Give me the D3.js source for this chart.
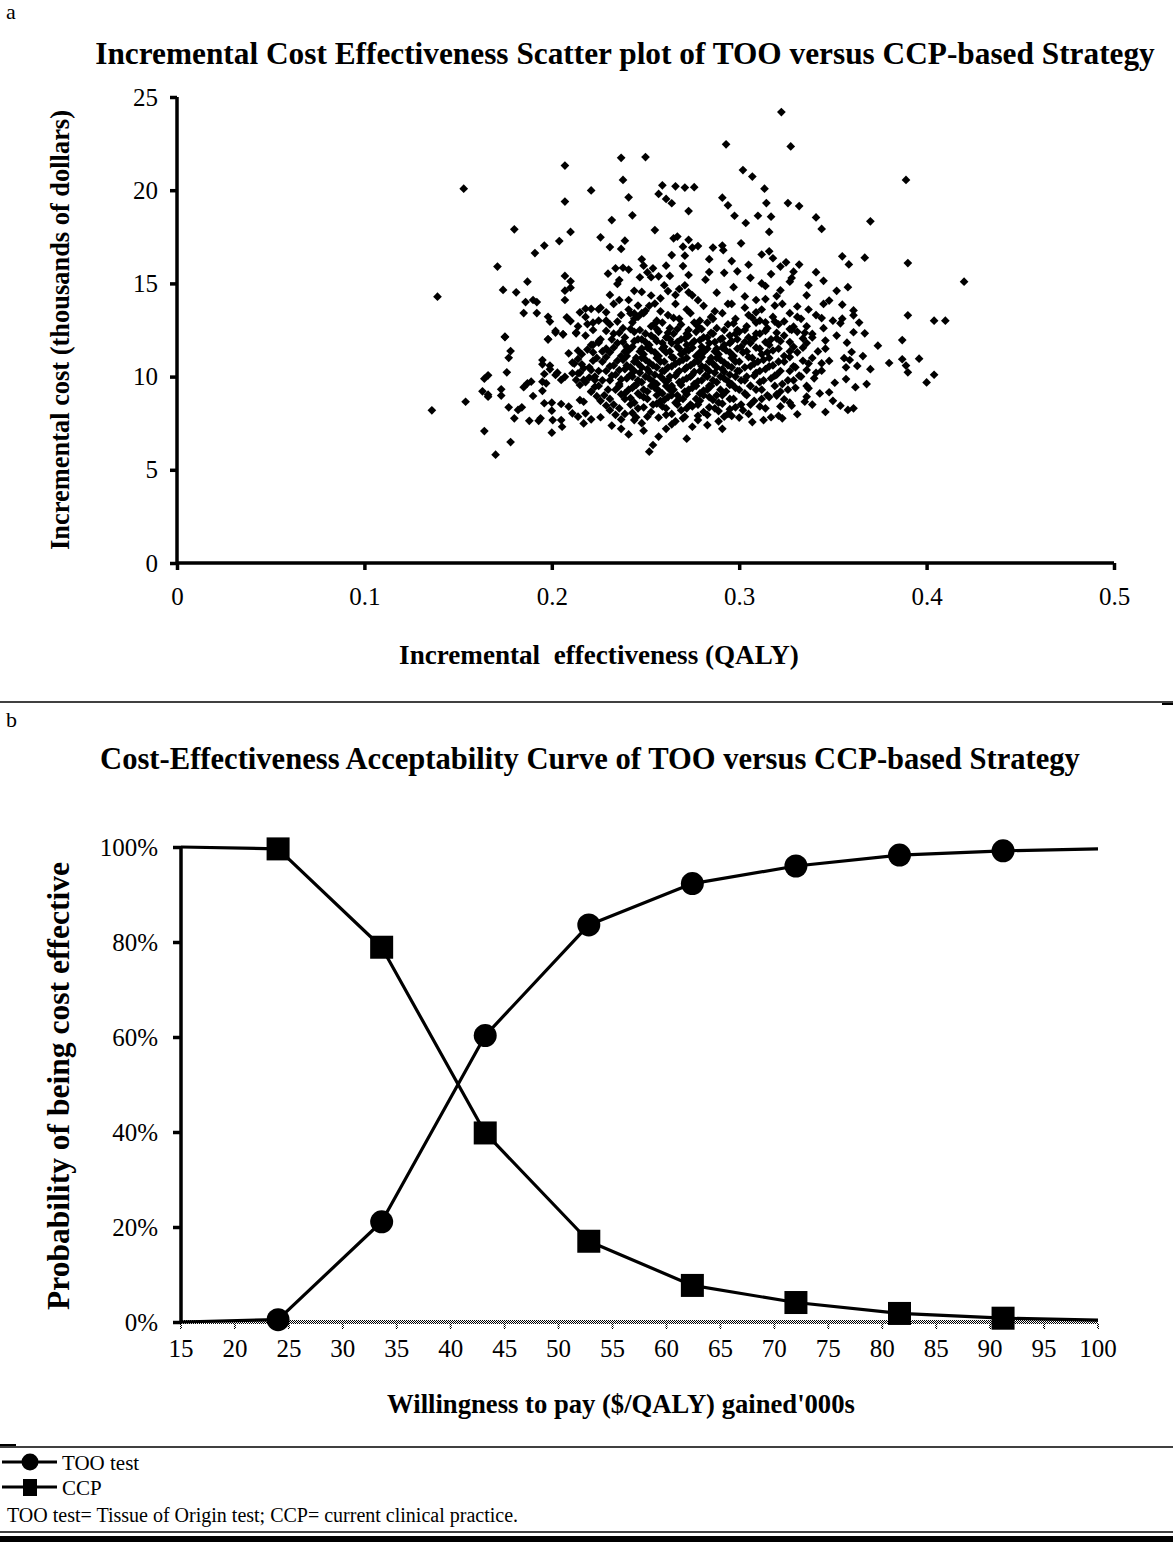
<!DOCTYPE html>
<html>
<head>
<meta charset="utf-8">
<script src="https://cdn.jsdelivr.net/npm/d3@7"></script>
<style>
  body { margin: 0; background: #fff; }
  text { font-family: "Liberation Serif", "Times New Roman", serif; fill: #000; }
</style>
</head>
<body>
<div id="chart"></div>
<script>
// ---------- panel a : incremental cost-effectiveness scatter ----------
const effectTicks = [0, 0.1, 0.2, 0.3, 0.4, 0.5];
const costTicks = [0, 5, 10, 15, 20, 25];

// [incremental effectiveness (QALY), incremental cost ($'000)]
const scatterOuter = [
  [0.153,20.08],[0.139,14.29],[0.207,21.32],[0.207,19.39],[0.221,19.99],[0.237,21.74],[0.250,21.78],[0.238,20.55],
  [0.241,19.62],[0.243,18.65],[0.232,18.40],[0.259,20.26],[0.266,20.21],[0.271,20.14],[0.276,20.16],[0.257,19.80],
  [0.261,19.53],[0.264,19.30],[0.273,18.88],[0.255,17.86],[0.180,17.90],[0.210,17.76],[0.204,17.27],[0.196,17.03],
  [0.191,16.63],[0.226,17.47],[0.231,16.95],[0.237,16.85],[0.239,17.29],[0.171,15.90],[0.174,14.65],[0.181,14.52],
  [0.187,15.09],[0.186,14.00],[0.190,14.11],[0.192,14.00],[0.185,13.41],[0.192,13.41],[0.175,12.12],[0.207,15.40],
  [0.210,15.11],[0.207,14.61],[0.210,14.77],[0.207,14.11],[0.198,13.21],[0.199,12.95],[0.202,12.45],[0.206,12.27],
  [0.208,13.18],[0.210,12.98],[0.213,12.36],[0.198,12.00],[0.215,13.45],[0.218,13.64],[0.221,13.63],[0.225,13.61],
  [0.219,12.82],[0.222,12.89],[0.225,13.00],[0.229,13.45],[0.231,14.38],[0.230,15.52],[0.234,15.81],[0.236,15.18],
  [0.235,14.97],[0.238,15.84],[0.241,15.74],[0.236,14.11],[0.241,14.11],[0.248,16.29],[0.249,15.95],[0.251,15.59],
  [0.254,15.81],[0.257,15.38],[0.261,15.95],[0.264,16.52],[0.267,17.51],[0.265,17.42],[0.270,16.97],[0.273,17.34],
  [0.271,16.49],[0.270,15.93],[0.275,16.92],[0.273,15.45],[0.247,15.33],[0.253,15.33],[0.260,14.90],[0.248,14.54],
  [0.253,14.35],[0.255,13.92],[0.248,13.40],[0.246,13.81],[0.262,14.59],[0.250,13.53],[0.242,13.39],[0.244,13.39],
  [0.266,14.38],[0.271,14.90],[0.273,14.52],[0.275,14.36],
  [0.3225,24.19],[0.293,22.46],[0.3275,22.35],[0.302,21.08],[0.307,20.73],[0.3135,20.08],[0.291,19.60],[0.294,19.19],
  [0.3145,19.31],[0.326,19.31],[0.332,19.15],[0.2975,18.63],[0.310,18.63],[0.317,18.58],[0.3035,18.24],[0.316,17.76],
  [0.341,18.54],[0.344,17.92],[0.370,18.33],[0.301,17.15],[0.286,16.92],[0.291,17.03],[0.2915,16.78],[0.278,17.00],
  [0.312,16.55],[0.316,16.72],[0.318,16.35],[0.325,16.13],[0.332,16.01],[0.355,16.45],[0.3585,16.02],[0.367,16.38],
  [0.390,16.09],[0.420,15.09],[0.389,20.55],[0.284,15.61],[0.292,15.57],[0.299,15.65],[0.329,15.63],[0.328,15.29],
  [0.327,15.09],[0.345,15.14],[0.314,14.86],[0.322,14.63],[0.320,14.32],[0.314,14.16],[0.309,14.11],[0.336,14.36],
  [0.331,13.76],[0.348,14.08],[0.345,13.90],[0.355,13.86],[0.361,13.55],[0.361,13.29],[0.390,13.29],[0.404,13.00],
  [0.410,13.00],[0.319,13.81],[0.309,13.45],[0.314,12.91],[0.324,12.96],[0.329,12.68],[0.339,12.29],[0.344,13.14],
  [0.355,13.11],[0.354,12.86],[0.361,12.38],[0.367,12.32],[0.3575,11.82],[0.374,11.66],[0.387,11.96],[0.346,11.93],
  [0.380,10.73],[0.387,10.93],[0.389,10.59],[0.390,10.23],[0.396,10.96],[0.404,10.10],[0.400,9.69],[0.348,10.84],
  [0.360,11.32],[0.356,10.99],[0.359,10.89],[0.357,10.50],[0.363,10.57],[0.344,10.71],[0.344,10.32],[0.340,9.91],
  [0.351,9.67],[0.357,9.87],[0.362,9.43],[0.343,9.10],[0.348,9.16],[0.337,9.37],[0.336,8.92],[0.335,8.65],
  [0.331,7.98],[0.328,8.44],[0.324,8.78],[0.320,8.98],[0.317,7.82],[0.321,7.90],[0.323,7.76],[0.313,7.67],
  [0.307,7.56],[0.289,8.15],[0.295,8.25],[0.296,7.89],[0.278,7.67],[0.354,8.44],[0.358,8.21],[0.361,8.30],
  [0.175,12.14],[0.198,12.00],[0.202,12.36],[0.206,12.27],[0.213,12.32],[0.178,11.37],[0.177,11.01],[0.164,9.89],
  [0.166,10.07],[0.176,10.23],[0.163,9.21],[0.166,8.92],[0.166,9.03],[0.173,9.32],[0.173,8.98],[0.154,8.65],
  [0.136,8.19],[0.164,7.08],[0.178,6.49],[0.170,5.81],[0.177,8.35],[0.180,7.76],[0.182,8.21],[0.184,8.35],
  [0.188,7.63],[0.193,7.63],[0.194,7.76],[0.185,9.43],[0.187,9.64],[0.189,9.73],[0.190,8.96],[0.195,10.89],
  [0.195,10.66],[0.199,10.59],[0.199,10.39],[0.196,10.14],[0.202,10.09],[0.203,10.21],[0.195,9.73],[0.197,9.64],
  [0.195,9.24],[0.196,8.57],[0.200,8.17],[0.200,8.60],[0.2005,7.67],[0.205,7.67],[0.2055,7.31],[0.200,6.99],
  [0.205,8.53],[0.209,8.39],[0.211,8.03],[0.214,7.85],[0.217,7.49],[0.221,7.71],[0.226,7.82],[0.218,8.03],
  [0.209,11.25],[0.214,11.39],[0.211,10.75],[0.216,10.66],[0.222,11.70],[0.225,11.82],[0.222,11.30],[0.205,9.82],
  [0.207,9.99],[0.211,10.18],[0.214,10.18],[0.213,9.82],[0.215,9.55],[0.217,9.82],[0.221,10.35],[0.223,9.82],
  [0.221,9.19],[0.215,8.74],[0.217,8.65],[0.232,7.37],[0.241,6.90],[0.252,5.97],[0.254,6.33],[0.257,6.78],
  [0.272,6.67],[0.244,7.67],[0.245,7.82],[0.264,7.44],[0.270,7.76],[0.275,7.31],
  [0.244,14.6],[0.258,14.2],[0.263,15.4],[0.268,14.7],[0.278,14.1],[0.282,15.2],[0.288,14.5],[0.294,13.9],
  [0.297,14.8],[0.303,14.3],[0.306,15.3],[0.312,15.0],[0.317,15.5],[0.284,16.3],[0.296,16.2],[0.305,16.0],
  [0.322,15.9],[0.337,14.9],[0.341,15.6],[0.352,14.6],[0.358,14.8],[0.364,12.9],[0.366,11.1],[0.370,10.4],
  [0.368,9.6],[0.350,8.7],[0.346,8.1],[0.339,8.5],[0.283,7.4],[0.291,7.2],[0.261,7.2],[0.249,7.1],[0.237,7.2]
];

// dense middle of the cloud, estimated row by row
const scatterCore = [
  [0.226,13.7],[0.233,13.9],[0.241,13.6],[0.252,13.8],[0.258,13.5],[0.266,13.9],[0.272,13.6],[0.281,13.8],[0.287,13.5],[0.296,13.9],[0.303,13.7],[0.312,13.6],[0.323,13.9],[0.337,13.6],
  [0.218,13.2],[0.229,13.0],[0.237,13.3],[0.244,13.1],[0.249,13.4],[0.256,13.0],[0.262,13.3],[0.268,13.1],[0.274,13.4],[0.279,13.0],[0.285,13.2],[0.291,13.4],[0.298,13.1],[0.305,13.3],[0.311,13.0],[0.318,13.2],[0.327,13.4],[0.333,13.1],[0.341,13.3],[0.350,13.0],
  [0.214,12.7],[0.222,12.5],[0.231,12.8],[0.238,12.6],[0.243,12.9],[0.247,12.5],[0.253,12.7],[0.259,12.9],[0.263,12.6],[0.269,12.8],[0.273,12.5],[0.278,12.7],[0.283,12.9],[0.288,12.6],[0.294,12.8],[0.299,12.5],[0.304,12.7],[0.309,12.9],[0.315,12.6],[0.321,12.8],[0.328,12.5],[0.336,12.7],[0.345,12.6],
  [0.218,12.2],[0.226,12.0],[0.233,12.3],[0.239,12.1],[0.244,12.4],[0.248,12.0],[0.253,12.2],[0.257,12.4],[0.261,12.1],[0.265,12.3],[0.269,12.0],[0.273,12.2],[0.277,12.4],[0.281,12.1],[0.286,12.3],[0.290,12.0],[0.295,12.2],[0.300,12.4],[0.305,12.1],[0.311,12.3],[0.317,12.0],[0.324,12.2],[0.331,12.4],[0.339,12.1],[0.352,12.2],
  [0.221,11.7],[0.229,11.5],[0.235,11.8],[0.240,11.6],[0.244,11.9],[0.248,11.5],[0.252,11.7],[0.256,11.9],[0.260,11.6],[0.264,11.8],[0.268,11.5],[0.272,11.7],[0.276,11.9],[0.280,11.6],[0.284,11.8],[0.288,11.5],[0.292,11.7],[0.296,11.9],[0.301,11.6],[0.306,11.8],[0.311,11.5],[0.316,11.7],[0.322,11.9],[0.329,11.6],[0.336,11.8],[0.346,11.5],
  [0.216,11.2],[0.224,11.0],[0.231,11.3],[0.237,11.1],[0.241,11.4],[0.245,11.0],[0.249,11.2],[0.253,11.4],[0.257,11.1],[0.261,11.3],[0.265,11.0],[0.269,11.2],[0.273,11.4],[0.277,11.1],[0.281,11.3],[0.285,11.0],[0.289,11.2],[0.293,11.4],[0.297,11.1],[0.302,11.3],[0.307,11.0],[0.312,11.2],[0.318,11.4],[0.324,11.1],[0.331,11.3],[0.339,11.0],
  [0.212,10.7],[0.220,10.5],[0.227,10.8],[0.233,10.6],[0.238,10.9],[0.242,10.5],[0.246,10.7],[0.250,10.9],[0.254,10.6],[0.258,10.8],[0.262,10.5],[0.266,10.7],[0.270,10.9],[0.274,10.6],[0.278,10.8],[0.282,10.5],[0.286,10.7],[0.290,10.9],[0.294,10.6],[0.298,10.8],[0.303,10.5],[0.308,10.7],[0.313,10.9],[0.318,10.6],[0.324,10.8],[0.330,10.5],[0.337,10.7],
  [0.215,10.2],[0.223,10.0],[0.229,10.3],[0.234,10.1],[0.239,10.4],[0.243,10.0],[0.247,10.2],[0.251,10.4],[0.255,10.1],[0.259,10.3],[0.263,10.0],[0.267,10.2],[0.271,10.4],[0.275,10.1],[0.279,10.3],[0.283,10.0],[0.287,10.2],[0.291,10.4],[0.295,10.1],[0.299,10.3],[0.304,10.0],[0.309,10.2],[0.314,10.4],[0.320,10.1],[0.327,10.3],[0.333,10.0],[0.341,10.2],
  [0.218,9.7],[0.225,9.5],[0.231,9.8],[0.236,9.6],[0.240,9.9],[0.244,9.5],[0.248,9.7],[0.252,9.9],[0.256,9.6],[0.260,9.8],[0.264,9.5],[0.268,9.7],[0.272,9.9],[0.276,9.6],[0.280,9.8],[0.284,9.5],[0.288,9.7],[0.292,9.9],[0.296,9.6],[0.301,9.8],[0.306,9.5],[0.311,9.7],[0.317,9.9],[0.323,9.6],[0.329,9.8],[0.336,9.5],
  [0.221,9.2],[0.228,9.0],[0.234,9.3],[0.239,9.1],[0.243,9.4],[0.247,9.0],[0.251,9.2],[0.255,9.4],[0.259,9.1],[0.263,9.3],[0.267,9.0],[0.271,9.2],[0.275,9.4],[0.279,9.1],[0.283,9.3],[0.288,9.0],[0.293,9.2],[0.298,9.4],[0.303,9.1],[0.309,9.3],[0.315,9.0],[0.322,9.2],[0.330,9.4],
  [0.226,8.7],[0.233,8.5],[0.239,8.8],[0.244,8.6],[0.249,8.9],[0.254,8.5],[0.258,8.7],[0.262,8.9],[0.266,8.6],[0.270,8.8],[0.274,8.5],[0.279,8.7],[0.284,8.9],[0.289,8.6],[0.295,8.8],[0.301,8.5],[0.308,8.7],[0.316,8.9],[0.327,8.6],
  [0.231,8.2],[0.239,8.0],[0.246,8.3],[0.253,8.1],[0.259,8.4],[0.264,8.0],[0.269,8.2],[0.275,8.4],[0.281,8.1],[0.287,8.3],[0.294,8.0],[0.302,8.2],[0.311,8.4],
  [0.237,7.7],[0.248,7.5],[0.257,7.8],[0.266,7.6],[0.278,7.9],[0.289,7.6],[0.300,7.8]
];

// second pass over the darkest part of the cloud
const scatterCoreFill = [
  [0.235,12.95],[0.246,13.2],[0.255,12.85],[0.265,13.15],[0.276,12.9],[0.286,13.1],[0.297,12.85],[0.307,13.15],[0.319,12.95],[0.331,13.2],
  [0.229,12.45],[0.236,12.35],[0.242,12.55],[0.250,12.3],[0.256,12.55],[0.262,12.35],[0.267,12.55],[0.272,12.3],[0.280,12.55],[0.285,12.35],[0.292,12.5],[0.298,12.3],[0.303,12.5],[0.309,12.3],[0.314,12.45],[0.320,12.35],[0.327,12.55],[0.335,12.35],
  [0.225,11.9],[0.232,12.0],[0.238,11.85],[0.246,12.0],[0.250,11.85],[0.255,12.05],[0.259,11.8],[0.263,12.0],[0.267,11.85],[0.271,12.05],[0.275,11.8],[0.279,11.95],[0.283,12.1],[0.287,11.85],[0.291,12.05],[0.295,11.8],[0.299,12.0],[0.303,11.85],[0.308,12.05],[0.314,11.85],[0.320,12.05],[0.327,11.85],[0.334,12.05],
  [0.219,11.45],[0.227,11.35],[0.233,11.55],[0.239,11.35],[0.243,11.6],[0.247,11.35],[0.251,11.55],[0.255,11.3],[0.259,11.5],[0.263,11.35],[0.267,11.6],[0.271,11.35],[0.275,11.55],[0.279,11.3],[0.283,11.5],[0.287,11.35],[0.291,11.55],[0.295,11.3],[0.299,11.5],[0.304,11.35],[0.309,11.55],[0.315,11.3],[0.321,11.5],[0.327,11.35],[0.334,11.55],[0.342,11.35],
  [0.214,10.95],[0.222,10.85],[0.229,11.05],[0.235,10.85],[0.240,11.1],[0.244,10.8],[0.248,11.0],[0.252,10.75],[0.256,11.0],[0.260,10.8],[0.264,11.05],[0.268,10.8],[0.272,11.0],[0.276,10.75],[0.280,11.05],[0.284,10.8],[0.288,11.0],[0.292,10.75],[0.296,11.0],[0.300,10.8],[0.305,11.05],[0.310,10.8],[0.316,11.0],[0.321,10.8],[0.327,11.05],[0.334,10.85],
  [0.217,10.45],[0.225,10.3],[0.231,10.55],[0.236,10.35],[0.240,10.6],[0.244,10.3],[0.248,10.5],[0.252,10.25],[0.256,10.5],[0.260,10.3],[0.264,10.55],[0.268,10.3],[0.272,10.5],[0.276,10.25],[0.280,10.55],[0.284,10.3],[0.288,10.5],[0.292,10.25],[0.296,10.5],[0.300,10.3],[0.306,10.55],[0.311,10.3],[0.316,10.55],[0.322,10.3],[0.329,10.55],[0.336,10.35],
  [0.220,9.95],[0.227,9.8],[0.232,10.05],[0.237,9.85],[0.242,10.1],[0.246,9.8],[0.250,10.0],[0.254,9.75],[0.258,10.0],[0.262,9.8],[0.266,10.05],[0.270,9.8],[0.274,10.0],[0.278,9.75],[0.282,10.05],[0.286,9.8],[0.290,10.0],[0.294,9.75],[0.298,10.0],[0.303,9.8],[0.308,10.05],[0.313,9.8],[0.319,10.05],[0.326,9.8],[0.332,10.05],
  [0.223,9.45],[0.230,9.3],[0.236,9.5],[0.241,9.3],[0.245,9.55],[0.249,9.3],[0.253,9.5],[0.257,9.25],[0.261,9.5],[0.265,9.3],[0.269,9.55],[0.273,9.3],[0.277,9.5],[0.281,9.25],[0.285,9.5],[0.290,9.3],[0.295,9.55],[0.300,9.3],[0.306,9.5],[0.312,9.3],[0.319,9.5],[0.326,9.3],
  [0.224,8.95],[0.231,8.8],[0.237,9.05],[0.242,8.85],[0.246,9.1],[0.251,8.8],[0.256,9.0],[0.260,8.75],[0.264,9.0],[0.268,8.8],[0.272,9.05],[0.277,8.8],[0.281,9.0],[0.286,8.75],[0.291,9.0],[0.297,8.8],[0.304,9.0],[0.312,8.8],[0.320,9.05],
  [0.229,8.45],[0.236,8.3],[0.242,8.5],[0.249,8.35],[0.256,8.55],[0.261,8.3],[0.267,8.5],[0.272,8.3],[0.278,8.5],[0.284,8.35],[0.291,8.55],[0.298,8.35],[0.306,8.5],[0.314,8.3],[0.322,8.4],
  [0.234,7.95],[0.243,8.05],[0.251,7.85],[0.261,7.95],[0.271,7.85],[0.283,7.95],[0.292,7.85],[0.305,8.0]
];

// ---------- panel b : cost-effectiveness acceptability curve ----------
const wtp = [15, 24, 33.6, 43.2, 52.8, 62.4, 72, 81.6, 91.2, 100];
const tooProb = [0, 0.5, 21.1, 60.3, 83.6, 92.3, 96.0, 98.3, 99.2, 99.6];
const ccpProb = [100, 99.6, 78.9, 39.8, 17.0, 7.7, 4.1, 1.8, 0.8, 0.4];
const wtpTicks = [15, 20, 25, 30, 35, 40, 45, 50, 55, 60, 65, 70, 75, 80, 85, 90, 95, 100];
const probTicks = [0, 20, 40, 60, 80, 100];

const W = 1173, H = 1542;

const svg = d3.select("#chart")
  .append("svg")
  .attr("width", W)
  .attr("height", H);

svg.append("rect").attr("width", W).attr("height", H).attr("fill", "#fff");

// grey checker pattern for the bottom axis
const defs = svg.append("defs");
const pat = defs.append("pattern")
  .attr("id", "hatch").attr("width", 2).attr("height", 2)
  .attr("patternUnits", "userSpaceOnUse");
pat.append("rect").attr("width", 2).attr("height", 2).attr("fill", "#fff");
pat.append("rect").attr("width", 1).attr("height", 1).attr("fill", "#000");
pat.append("rect").attr("x", 1).attr("y", 1).attr("width", 1).attr("height", 1).attr("fill", "#000");

// stretch/shrink a text to a measured width by changing its font size
function fitWidth(sel, width) {
  const w = sel.node().getComputedTextLength();
  const fs = parseFloat(sel.attr("font-size"));
  sel.attr("font-size", (fs * width / w).toFixed(2));
}

// ----- panel a -----
const xA = d3.scaleLinear().domain([0, 0.5]).range([177, 1114]);
const yA = d3.scaleLinear().domain([0, 25]).range([563, 97]);

svg.append("text").attr("x", 6).attr("y", 19).attr("font-size", 22).text("a");

const titleA = svg.append("text")
  .attr("x", 625).attr("y", 64)
  .attr("text-anchor", "middle")
  .attr("font-size", 26).attr("font-weight", "bold")
  .text("Incremental Cost Effectiveness Scatter plot of TOO versus CCP-based Strategy");
fitWidth(titleA, 1060);

const gA = svg.append("g");

const diamond = d3.symbol().type(d3.symbolSquare).size(38);
gA.selectAll("path.pt")
  .data(scatterOuter.concat(scatterCore, scatterCoreFill))
  .enter()
  .append("path")
  .attr("class", "pt")
  .attr("d", diamond)
  .attr("fill", "#000")
  .attr("transform", d => `translate(${xA(d[0])},${yA(d[1])}) rotate(45)`);

const axisA_x = gA.append("g")
  .attr("transform", `translate(0,${yA(0)})`)
  .call(d3.axisBottom(xA).tickValues(effectTicks).tickSize(7).tickPadding(17).tickFormat(d3.format("")));
const axisA_y = gA.append("g")
  .attr("transform", `translate(${xA(0)},0)`)
  .call(d3.axisLeft(yA).tickValues(costTicks).tickSize(7).tickPadding(12));

[axisA_x, axisA_y].forEach(a => {
  a.select(".domain").attr("stroke", "#000").attr("stroke-width", 3.5);
  a.selectAll(".tick line").attr("stroke", "#000").attr("stroke-width", 3.5);
  a.selectAll(".tick text").attr("font-family", "Liberation Serif").attr("font-size", 25);
});
axisA_x.select(".domain").attr("d", `M${xA(0)},0H${xA(0.5)}`);
axisA_y.select(".domain").attr("d", `M0,${yA(25)}V${yA(0)}`);

const xLabA = svg.append("text")
  .attr("x", 599).attr("y", 664)
  .attr("text-anchor", "middle")
  .attr("font-size", 20).attr("font-weight", "bold")
  .attr("xml:space", "preserve")
  .text("Incremental  effectiveness (QALY)");
fitWidth(xLabA, 400);

const yLabA = svg.append("text")
  .attr("transform", "translate(69,330) rotate(-90)")
  .attr("text-anchor", "middle")
  .attr("font-size", 20).attr("font-weight", "bold")
  .text("Incremental cost (thousands of dollars)");
fitWidth(yLabA, 440);

// separators
svg.append("line").attr("x1", 0).attr("x2", W).attr("y1", 702).attr("y2", 702).attr("stroke", "#000").attr("stroke-width", 1.5);
svg.append("line").attr("x1", 1162).attr("x2", W).attr("y1", 704).attr("y2", 704).attr("stroke", "#000").attr("stroke-width", 2);

// ----- panel b -----
const xB = d3.scaleLinear().domain([15, 100]).range([181, 1098]);
const yB = d3.scaleLinear().domain([0, 100]).range([1322, 847]);

svg.append("text").attr("x", 6).attr("y", 727).attr("font-size", 22).text("b");

const titleB = svg.append("text")
  .attr("x", 590).attr("y", 769)
  .attr("text-anchor", "middle")
  .attr("font-size", 26).attr("font-weight", "bold")
  .text("Cost-Effectiveness Acceptability Curve of TOO versus CCP-based Strategy");
fitWidth(titleB, 980);

const gB = svg.append("g");

// hatched grey x axis with small ticks
gB.append("rect")
  .attr("x", xB(15)).attr("y", yB(0) - 2)
  .attr("width", xB(100) - xB(15)).attr("height", 4)
  .attr("fill", "url(#hatch)");
gB.selectAll("rect.xt")
  .data(wtpTicks)
  .enter()
  .append("rect")
  .attr("class", "xt")
  .attr("x", d => xB(d) - 1).attr("y", yB(0) + 2)
  .attr("width", 2).attr("height", 5)
  .attr("fill", "url(#hatch)");
gB.selectAll("text.xl")
  .data(wtpTicks)
  .enter()
  .append("text")
  .attr("class", "xl")
  .attr("x", d => xB(d)).attr("y", yB(0) + 35)
  .attr("text-anchor", "middle")
  .attr("font-size", 25)
  .text(d => d);

const axisB_y = gB.append("g")
  .attr("transform", `translate(${xB(15)},0)`)
  .call(d3.axisLeft(yB).tickValues(probTicks).tickSize(8).tickPadding(15).tickFormat(d => d + "%"));
axisB_y.select(".domain").attr("d", `M0,${yB(100)}V${yB(0)}`).attr("stroke", "#000").attr("stroke-width", 3.5);
axisB_y.selectAll(".tick line").attr("stroke", "#000").attr("stroke-width", 3.5);
axisB_y.selectAll(".tick text").attr("font-family", "Liberation Serif").attr("font-size", 25);

const line = d3.line().x(d => xB(d[0])).y(d => yB(d[1]));
const tooData = wtp.map((w, i) => [w, tooProb[i]]);
const ccpData = wtp.map((w, i) => [w, ccpProb[i]]);

gB.append("path").datum(tooData).attr("d", line)
  .attr("fill", "none").attr("stroke", "#000").attr("stroke-width", 3.2).attr("stroke-linejoin", "round");
gB.append("path").datum(ccpData).attr("d", line)
  .attr("fill", "none").attr("stroke", "#000").attr("stroke-width", 3.2).attr("stroke-linejoin", "round");

gB.selectAll("circle.too")
  .data(tooData.slice(1, -1))
  .enter()
  .append("circle")
  .attr("class", "too")
  .attr("cx", d => xB(d[0])).attr("cy", d => yB(d[1]))
  .attr("r", 11.5).attr("fill", "#000");

gB.selectAll("rect.ccp")
  .data(ccpData.slice(1, -1))
  .enter()
  .append("rect")
  .attr("class", "ccp")
  .attr("x", d => xB(d[0]) - 11.5).attr("y", d => yB(d[1]) - 11.5)
  .attr("width", 23).attr("height", 23).attr("fill", "#000");

const xLabB = svg.append("text")
  .attr("x", 621).attr("y", 1413)
  .attr("text-anchor", "middle")
  .attr("font-size", 20).attr("font-weight", "bold")
  .text("Willingness to pay ($/QALY) gained'000s");
fitWidth(xLabB, 468);

const yLabB = svg.append("text")
  .attr("transform", "translate(69,1086) rotate(-90)")
  .attr("text-anchor", "middle")
  .attr("font-size", 20).attr("font-weight", "bold")
  .text("Probability of being cost effective");
fitWidth(yLabB, 448);

// separator above legend
svg.append("line").attr("x1", 0).attr("x2", W).attr("y1", 1447).attr("y2", 1447).attr("stroke", "#000").attr("stroke-width", 1.5);
svg.append("line").attr("x1", 0).attr("x2", 16).attr("y1", 1445).attr("y2", 1445).attr("stroke", "#000").attr("stroke-width", 2);

// legend
const legend = svg.append("g");
const legendItems = [
  { name: "TOO test", shape: "circle", y: 1462 },
  { name: "CCP", shape: "square", y: 1487 }
];
legendItems.forEach(it => {
  legend.append("line").attr("x1", 2).attr("x2", 57).attr("y1", it.y).attr("y2", it.y)
    .attr("stroke", "#000").attr("stroke-width", 3);
  if (it.shape === "circle") {
    legend.append("circle").attr("cx", 30).attr("cy", it.y).attr("r", 8.5).attr("fill", "#000");
  } else {
    legend.append("rect").attr("x", 23).attr("y", it.y - 8).attr("width", 14).attr("height", 17).attr("fill", "#000");
  }
  legend.append("text").attr("x", 62).attr("y", it.y + 8).attr("font-size", 21).text(it.name);
});

svg.append("text").attr("x", 7).attr("y", 1522).attr("font-size", 20)
  .text("TOO test= Tissue of Origin test; CCP= current clinical practice.");

// double rule at the bottom
svg.append("line").attr("x1", 0).attr("x2", W).attr("y1", 1532).attr("y2", 1532).attr("stroke", "#000").attr("stroke-width", 1.5);
svg.append("rect").attr("x", 0).attr("y", 1536).attr("width", W).attr("height", 6).attr("fill", "#000");
</script>
</body>
</html>
